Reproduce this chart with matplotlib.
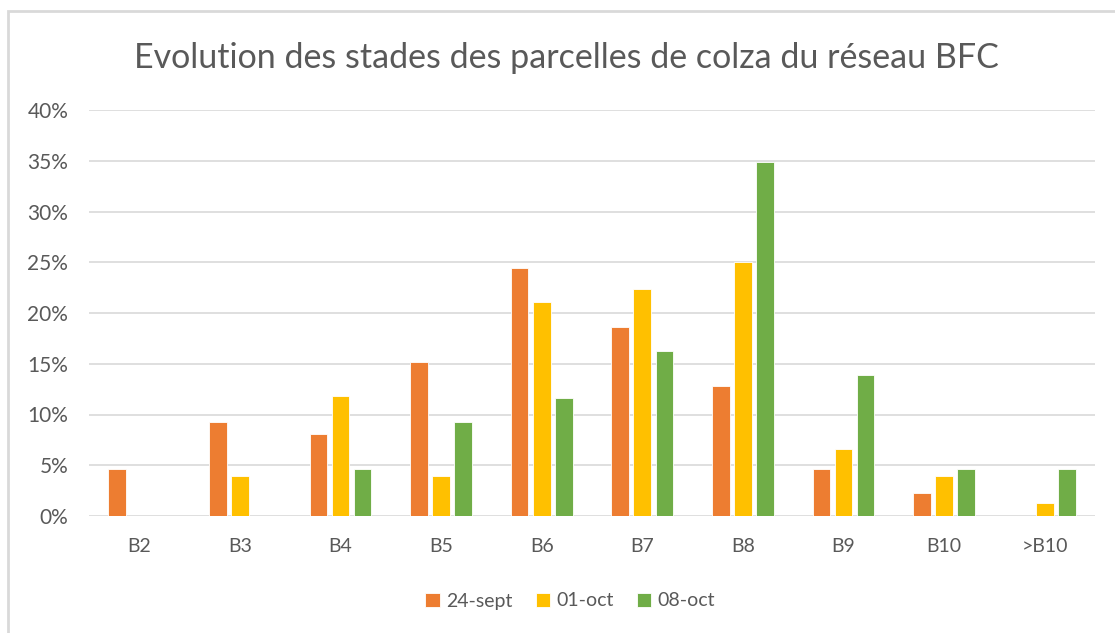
import numpy as np
import matplotlib.pyplot as plt
from matplotlib.patches import Rectangle

plt.rcParams['font.family'] = ['Lato', 'DejaVu Sans']

stades = ["B2", "B3", "B4", "B5", "B6", "B7", "B8", "B9", "B10", ">B10"]
dates = ["24-sept", "01-oct", "08-oct"]
sept_24 = [4.65, 9.3, 8.1, 15.15, 24.4, 18.6, 12.8, 4.65, 2.3, 0.0]
oct_01 = [0.0, 3.95, 11.85, 3.95, 21.1, 22.35, 25.0, 6.6, 3.95, 1.3]
oct_08 = [0.0, 0.0, 4.65, 9.3, 11.6, 16.3, 34.9, 13.9, 4.65, 4.65]
couleurs = ["#ED7D31", "#FFC000", "#70AD47"]
gris = "#595959"

fig = plt.figure(figsize=(11.15, 6.33), dpi=100)
ax = fig.add_axes([89 / 1115, 117 / 633, 1006 / 1115, 406 / 633])

x = np.arange(len(stades))
w = 0.175
step = 0.22
for i, (vals, lab) in enumerate(zip([sept_24, oct_01, oct_08], dates)):
    ax.bar(x + (i - 1) * step, vals, width=w, color=couleurs[i], label=lab,
           edgecolor="white", linewidth=0.6, zorder=3)

ax.set_xlim(-0.5, len(stades) - 0.5)
ax.set_ylim(0, 40)
ax.set_yticks(np.arange(0, 41, 5))
ax.set_yticklabels([f"{v}%" for v in range(0, 41, 5)])
ax.set_xticks(x)
ax.set_xticklabels(stades)
ax.tick_params(axis="both", length=0, labelsize=14, colors=gris)
ax.tick_params(axis="y", pad=15, labelsize=15)
ax.tick_params(axis="x", pad=16)
ax.grid(axis="y", color="#D9D9D9", linewidth=1.2, zorder=0)
for s in ax.spines.values():
    s.set_visible(False)

fig.text(0.508, 0.908, "Evolution des stades des parcelles de colza du réseau BFC",
         ha="center", va="center", fontsize=24.5, color=gris)

leg = fig.legend(loc="center", bbox_to_anchor=(570 / 1115, 1 - 601 / 633), ncol=3,
                 frameon=False, fontsize=14, handlelength=0.75, handleheight=0.75,
                 handletextpad=0.3, columnspacing=1.2)
for t in leg.get_texts():
    t.set_color(gris)

# bordure du graphique (gauche et haut)
fig.add_artist(Rectangle((8 / 1115, -0.05), 1.2, 1 - 11 / 633 + 0.05,
                         transform=fig.transFigure, fill=False,
                         edgecolor="#D9D9D9", linewidth=2))

fig.savefig("out.png", dpi=100)
